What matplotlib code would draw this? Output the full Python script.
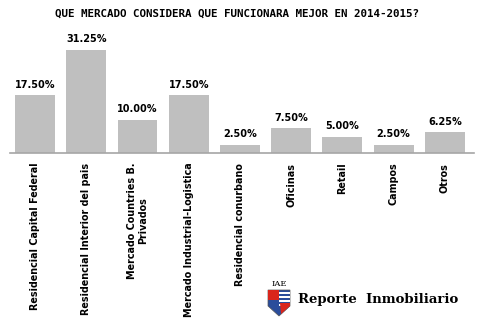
import matplotlib
matplotlib.use("Agg")
import matplotlib.pyplot as plt
from matplotlib.patches import Polygon, Rectangle
import numpy as np

categories = [
    "Residencial Capital Federal",
    "Residencial Interior del pais",
    "Mercado Countries B.\nPrivados",
    "Mercado Industrial-Logistica",
    "Residencial conurbano",
    "Oficinas",
    "Retail",
    "Campos",
    "Otros",
]
values = [17.50, 31.25, 10.00, 17.50, 2.50, 7.50, 5.00, 2.50, 6.25]
title = "QUE MERCADO CONSIDERA QUE FUNCIONARA MEJOR EN 2014-2015?"

W, H = 483, 327
fig = plt.figure(figsize=(W / 100, H / 100), dpi=100)
fig.patch.set_facecolor("white")

# axes placed in pixel terms: baseline at y=153 from top
left, right = 10, 474
base, top = 153, 21
ax = fig.add_axes([left / W, (H - base) / H, (right - left) / W, (base - top) / H])
x = np.arange(len(values))
ax.bar(x, values, width=0.78, color="#BFBFBF", zorder=2)
ax.set_xlim(-0.49, 8.57)
ax.set_ylim(0, 40)
for s in ["top", "right", "left"]:
    ax.spines[s].set_visible(False)
ax.spines["bottom"].set_color("#A6A6A6")
ax.spines["bottom"].set_linewidth(1.2)
ax.set_yticks([])
ax.set_xticks(x)
ax.set_xticklabels(categories, rotation=90, fontsize=6.9, fontweight="bold",
                   va="top", ha="center", multialignment="center")
ax.tick_params(axis="x", length=0, pad=7)

for xi, v in zip(x, values):
    ax.annotate(f"{v:.2f}%", (xi, v), xytext=(0, 4), textcoords="offset points",
                ha="center", va="bottom", fontsize=7, fontweight="bold")

fig.text(237 / W, 1 - 14 / H, title, ha="center", va="center", fontsize=7.8,
         fontweight="bold", family="DejaVu Sans Mono")

# logo: IAE crest and masthead
def fx(px):
    return px / W

def fy(py):
    return 1 - py / H

fig.text(fx(279), fy(284), "IAE", ha="center", va="center", fontsize=6,
         family="DejaVu Serif")
shield = [(268, 290), (290, 290), (290, 306), (279, 316), (268, 306)]
fig.patches.append(Polygon([(fx(a), fy(b)) for a, b in shield], closed=True,
                           transform=fig.transFigure, facecolor="#2A4D9B",
                           edgecolor="#555555", lw=0.5))
for i, yy in enumerate([292, 296, 300, 304]):
    fig.patches.append(Rectangle((fx(279), fy(yy + 1.6)), fx(11), 1.6 / H,
                                 transform=fig.transFigure, facecolor="white",
                                 edgecolor="none"))
fig.patches.append(Rectangle((fx(268), fy(300)), fx(11), 10 / H,
                             transform=fig.transFigure, facecolor="#D9261C",
                             edgecolor="none"))
fig.patches.append(Polygon([(fx(280), fy(303)), (fx(290), fy(303)), (fx(290), fy(306)),
                            (fx(281), fy(314))], closed=True,
                           transform=fig.transFigure, facecolor="#D9261C",
                           edgecolor="none"))
fig.text(fx(378), fy(299), "Reporte  Inmobiliario", ha="center", va="center",
         fontsize=9.5, fontweight="bold", family="DejaVu Serif")

fig.savefig("out.png", dpi=100, facecolor="white")
